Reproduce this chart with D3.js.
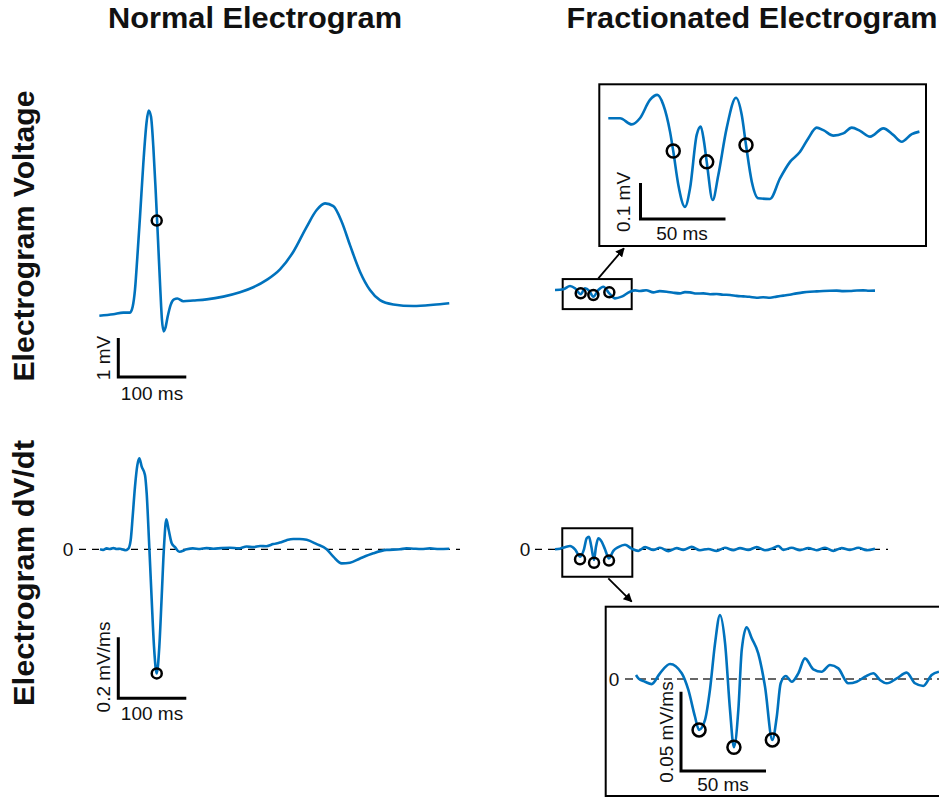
<!DOCTYPE html>
<html>
<head>
<meta charset="utf-8">
<script src="https://cdn.jsdelivr.net/npm/d3@7"></script>
<style>
  body { margin: 0; background: #fff; }
  svg { display: block; }
  text { font-family: "Liberation Sans", Arial, Helvetica, sans-serif; fill: #111; }
</style>
</head>
<body>
<svg id="chart" width="939" height="798"></svg>
<script>
// ---- data (time in ms, voltage in mV, dV/dt in mV/ms) ----
const normTime = [0.5, 21, 35.8, 45.6, 49.5, 52.9, 56.4, 60.3, 65.2, 70.1, 73, 76.5, 79.9, 83.3, 86.8, 90.2, 92.6, 95.1, 97.5, 101, 105.4, 110.3, 115.2, 124, 138.7, 158.4, 182.8, 207.4, 226.9, 246.6, 266.2, 285.8, 305.4, 320.1, 332.4, 344.6, 356.9, 369.1, 383.8, 398.5, 413.2, 432.8, 462.2, 491.6, 515.1];
const normVoltage = [-0.07, -0.03, 0.01, 0.01, 0.16, 0.59, 1.44, 2.47, 3.84, 4.91, 5.19, 5.03, 4.26, 3.15, 1.87, 0.59, -0.18, -0.47, -0.39, -0.09, 0.21, 0.35, 0.37, 0.30, 0.32, 0.35, 0.42, 0.53, 0.66, 0.85, 1.12, 1.57, 2.21, 2.64, 2.81, 2.74, 2.34, 1.74, 1.06, 0.59, 0.33, 0.22, 0.18, 0.21, 0.25];

const normDvdtTime = [1.5, 6, 11.3, 16, 21.1, 26, 30.9, 35, 38.2, 43.1, 46.6, 49.5, 52.9, 56.4, 59.3, 62.8, 67.6, 70.1, 73.5, 77.5, 80.9, 84.9, 88.7, 92.2, 95.6, 99, 102.5, 106.9, 111.8, 118.1, 129, 138, 148.5, 158, 168.1, 180, 192.6, 205, 217.2, 227, 236.8, 246, 256.3, 266, 276, 285.8, 295, 305.4, 320.1, 334.8, 344.6, 356.9, 369.1, 383.8, 403.4, 423, 442.6, 452, 462.2, 474, 486.8, 500, 515.1];
const normDvdt = [0, -0.002, 0.003, 0.001, 0.004, 0.001, 0.002, -0.001, -0.003, 0.002, 0.03, 0.107, 0.205, 0.276, 0.298, 0.271, 0.244, 0.184, 0.03, -0.166, -0.319, -0.407, -0.319, -0.155, 0.009, 0.098, 0.063, 0.02, 0.007, -0.008, 0, 0.003, 0.001, 0.004, 0.002, 0.004, 0.005, 0.003, 0.009, 0.007, 0.011, 0.01, 0.017, 0.022, 0.03, 0.034, 0.034, 0.031, 0.017, 0, -0.024, -0.046, -0.044, -0.03, -0.013, -0.002, 0, 0.003, 0.002, 0.001, 0.003, 0.001, 0.002];

const fracTime = [0, 12.3, 22.1, 29.4, 37.8, 44.1, 50.5, 56.4, 63.7, 71, 79.9, 88.2, 98, 110.3, 118, 125, 134, 144.6, 154, 164.2, 174, 183.8, 191, 198.5, 208, 218.1, 228, 237.7, 247, 257.4, 267, 277, 286, 296.6, 306, 316.2, 326, 335.8, 345, 355.4, 365, 375, 385, 394.6, 404, 414.2, 424, 433.8, 444, 453.4, 462, 470.6];
const fracVoltage = [0, 0.018, 0.103, 0.043, -0.11, 0.043, -0.026, -0.171, 0, 0.085, -0.085, -0.214, -0.171, -0.043, -0.01, -0.026, -0.005, -0.06, -0.03, -0.043, -0.07, -0.086, -0.055, -0.06, -0.09, -0.086, -0.11, -0.103, -0.12, -0.128, -0.15, -0.163, -0.175, -0.197, -0.185, -0.197, -0.17, -0.145, -0.12, -0.086, -0.06, -0.043, -0.035, -0.026, -0.02, -0.017, -0.03, -0.026, -0.012, -0.009, -0.02, -0.017];

const fracDvdtTime = [0, 7.4, 14.7, 22.1, 29.4, 36.8, 42.6, 46.6, 50, 53.4, 57.4, 60.3, 63.7, 68.6, 73.5, 79.4, 85.8, 93.1, 102.9, 112.8, 122.5, 132.4, 144.6, 154.4, 166.6, 179, 188.7, 201, 213.2, 225.4, 237.8, 250, 262.2, 272.1, 284.3, 296.6, 308.8, 321, 328.4, 335.7, 348, 360.3, 372.5, 384.8, 397.1, 409.3, 421.6, 433.8, 446, 458.4, 470.6];
const fracDvdt = [0, 0.002, 0.007, 0.011, 0, -0.024, 0, 0.036, 0.041, 0.009, -0.035, 0.009, 0.036, 0.025, 0, -0.03, -0.005, 0.007, 0.015, 0.002, -0.005, 0.007, -0.002, 0.005, -0.006, 0.004, -0.002, 0.008, -0.003, 0.001, -0.005, 0.005, -0.003, 0.004, -0.002, 0.007, -0.003, 0.004, 0.011, -0.002, 0.005, -0.003, 0.004, -0.003, 0.005, -0.005, 0.004, -0.002, 0.005, -0.003, 0.002];

const insetVTime = [0, 6.9, 13.8, 18.6, 24.5, 28.8, 32.4, 36.3, 38.2, 41.2, 45.1, 48.1, 52, 54.4, 56.3, 57.9, 61.4, 64.7, 69.6, 75.1, 78.5, 81, 84.4, 88.2, 95.1, 101, 106.9, 112.8, 117.6, 122.6, 126.5, 132.4, 138.2, 143.2, 148.1, 154, 161.8, 167.6, 172.6, 178.5, 183];
const insetV = [0, 0, -0.017, 0, 0.051, 0.065, 0.037, -0.037, -0.091, -0.185, -0.246, -0.194, -0.046, -0.023, -0.065, -0.121, -0.227, -0.158, -0.028, 0.057, 0.009, -0.074, -0.176, -0.222, -0.224, -0.167, -0.121, -0.093, -0.056, -0.026, -0.033, -0.048, -0.042, -0.026, -0.035, -0.051, -0.028, -0.046, -0.065, -0.044, -0.037];

const insetDTime = [0, 1.4, 5.3, 9.2, 14.1, 20, 26.9, 30.8, 34.7, 37.1, 40.6, 43.5, 46.5, 49.4, 52.4, 55.3, 57.6, 60.2, 62.2, 65.1, 68.1, 71.9, 75.9, 80.2, 82.8, 85.1, 88.1, 91.6, 95.5, 99.4, 104.3, 109.2, 114.1, 119, 124.9, 129.8, 134.7, 139.6, 143.5, 147.5, 153.4, 159.2, 164.1, 169, 173.9, 178.2];
const insetD = [0.0025, 0.0004, -0.0017, -0.0032, 0.0036, 0.0095, 0.0036, -0.0069, -0.0238, -0.0321, -0.0258, -0.0069, 0.0225, 0.0403, 0.0225, -0.0195, -0.043, -0.0195, 0.0183, 0.0326, 0.0256, 0.0162, -0.0049, -0.0384, -0.0238, -0.0027, 0.0019, -0.0017, 0.0036, 0.013, 0.0061, 0.0046, 0.0088, 0.0067, -0.0027, -0.0017, 0.0014, 0.0036, -0.0006, -0.0027, 0.0004, 0.004, -0.0027, -0.0044, 0.0025, 0.0046];

// marked points (circles)
const normVMarkT = [84.9], normVMarkV = [2.37];
const normDMarkT = [84.9], normDMarkV = [-0.407];
const fracVMarkT = [37.8, 56.4, 79.9], fracVMarkV = [-0.085, -0.128, -0.06];
const fracDMarkT = [36.8, 57.4, 79.4], fracDMarkV = [-0.033, -0.044, -0.037];
const insetVMarkT = [38.2, 57.9, 81], insetVMarkV = [-0.091, -0.121, -0.074];
const insetDMarkT = [37.1, 57.6, 80.2], insetDMarkV = [-0.0321, -0.043, -0.0384];

// zoom window extents on the fractionated traces
const fracVBoxT = [11.3, 112.8], fracVBoxV = [0.28, -0.49];
const fracDBoxT = [10.7, 113.7], fracDBoxV = [0.069, -0.09];

const titles = ["Normal Electrogram", "Fractionated Electrogram"];
const rowLabels = ["Electrogram Voltage", "Electrogram dV/dt"];

// ---- scales ----
const xN = d3.scaleLinear().domain([0, 515]).range([99, 449.2]);
const yNV = d3.scaleLinear().domain([0, 1]).range([313, 274]);
const yND = d3.scaleLinear().domain([0, 0.2]).range([549.3, 488.3]);
const xF = d3.scaleLinear().domain([0, 470.6]).range([555, 875]);
const yFV = d3.scaleLinear().domain([0, 1]).range([290, 251]);
const yFD = d3.scaleLinear().domain([0, 0.2]).range([549.3, 488.3]);
const xIV = d3.scaleLinear().domain([0, 50]).range([608.3, 693.3]);
const yIV = d3.scaleLinear().domain([0, 0.1]).range([118.3, 82.3]);
const xID = d3.scaleLinear().domain([0, 50]).range([636, 721]);
const yID = d3.scaleLinear().domain([0, 0.05]).range([679, 599.7]);

const blue = "#0072BD";
const svg = d3.select("#chart");

// arrow head
svg.append("defs").append("marker")
  .attr("id", "arrow").attr("viewBox", "0 0 10 10")
  .attr("refX", 9).attr("refY", 5)
  .attr("markerWidth", 5).attr("markerHeight", 5)
  .attr("orient", "auto")
  .append("path").attr("d", "M0,0L10,5L0,10z").attr("fill", "#000");

function trace(ts, vs, x, y) {
  const line = d3.line().x(i => x(ts[i])).y(i => y(vs[i])).curve(d3.curveMonotoneX);
  svg.append("path")
    .attr("d", line(d3.range(ts.length)))
    .attr("fill", "none").attr("stroke", blue)
    .attr("stroke-width", 2.6).attr("stroke-linejoin", "round");
}

function marks(ts, vs, x, y, r) {
  svg.append("g").selectAll("circle").data(d3.range(ts.length)).join("circle")
    .attr("cx", i => x(ts[i])).attr("cy", i => y(vs[i])).attr("r", r)
    .attr("fill", "none").attr("stroke", "#000").attr("stroke-width", 2.5);
}

function zeroLine(x1, x2, y, color, w, dash) {
  svg.append("line").attr("x1", x1).attr("x2", x2).attr("y1", y).attr("y2", y)
    .attr("stroke", color).attr("stroke-width", w).attr("stroke-dasharray", dash);
}

function label(txt, x, y, size, opts = {}) {
  const t = svg.append("text").attr("font-size", size)
    .attr("text-anchor", "middle").text(txt);
  if (opts.bold) t.attr("font-weight", "bold");
  if (opts.len) t.attr("textLength", opts.len).attr("lengthAdjust", "spacingAndGlyphs");
  if (opts.rot) t.attr("transform", `translate(${x},${y}) rotate(-90)`);
  else t.attr("x", x).attr("y", y);
  return t;
}

// L-shaped scale bar: corner at (cx, cy), lengths from scales
function scaleBar(cx, cy, w, h) {
  svg.append("path")
    .attr("d", `M${cx},${cy - h}V${cy}H${cx + w}`)
    .attr("fill", "none").attr("stroke", "#000").attr("stroke-width", 3);
}

function box(x1, y1, x2, y2) {
  svg.append("rect").attr("x", x1).attr("y", y1)
    .attr("width", x2 - x1).attr("height", y2 - y1)
    .attr("fill", "#fff").attr("stroke", "#000").attr("stroke-width", 2);
}

function arrow(x1, y1, x2, y2) {
  svg.append("line").attr("x1", x1).attr("y1", y1).attr("x2", x2).attr("y2", y2)
    .attr("stroke", "#000").attr("stroke-width", 1.8).attr("marker-end", "url(#arrow)");
}

// ---- titles ----
label(titles[0], 255, 28, 30, { bold: true, len: 294 });
label(titles[1], 752, 28, 30, { bold: true, len: 371 });
label(rowLabels[0], 34, 236, 30, { bold: true, rot: true, len: 291 });
label(rowLabels[1], 34, 573, 30, { bold: true, rot: true, len: 266 });

// ---- normal voltage ----
trace(normTime, normVoltage, xN, yNV);
marks(normVMarkT, normVMarkV, xN, yNV, 5);
scaleBar(118.3, 377, xN(100) - xN(0), yNV(0) - yNV(1));
label("1 mV", 110, 358, 19, { rot: true });
label("100 ms", 152, 400, 19);

// ---- normal dV/dt ----
zeroLine(79, 460, yND(0), "#000", 1.2, "7,6");
label("0", 68, yND(0) + 7, 19);
trace(normDvdtTime, normDvdt, xN, yND);
marks(normDMarkT, normDMarkV, xN, yND, 5);
scaleBar(118.3, 698.3, xN(100) - xN(0), yND(0) - yND(0.2));
label("0.2 mV/ms", 110, 667, 19, { rot: true });
label("100 ms", 152, 720, 19);

// ---- fractionated voltage ----
box(xF(fracVBoxT[0]), yFV(fracVBoxV[0]), xF(fracVBoxT[1]), yFV(fracVBoxV[1]));
trace(fracTime, fracVoltage, xF, yFV);
marks(fracVMarkT, fracVMarkV, xF, yFV, 5);
arrow(598.3, 278.3, 624, 248.3);
box(599.3, 84.3, 926, 246);
trace(insetVTime, insetV, xIV, yIV);
marks(insetVMarkT, insetVMarkV, xIV, yIV, 6.5);
scaleBar(640.5, 219, xIV(50) - xIV(0), yIV(0) - yIV(0.1));
label("0.1 mV", 630, 202, 19, { rot: true });
label("50 ms", 682, 240, 19);

// ---- fractionated dV/dt ----
zeroLine(535, 888, yFD(0), "#000", 1.2, "7,6");
label("0", 525, yFD(0) + 7, 19);
box(xF(fracDBoxT[0]), yFD(fracDBoxV[0]), xF(fracDBoxT[1]), yFD(fracDBoxV[1]));
trace(fracDvdtTime, fracDvdt, xF, yFD);
marks(fracDMarkT, fracDMarkV, xF, yFD, 5);
arrow(608.3, 578.3, 631.7, 601.7);
box(605.7, 606.7, 945, 796);
zeroLine(625, 939, yID(0), "#666", 1.8, "8,5");
label("0", 614, yID(0) + 7, 19);
trace(insetDTime, insetD, xID, yID);
marks(insetDMarkT, insetDMarkV, xID, yID, 6.5);
scaleBar(681, 771, xID(50) - xID(0), yID(0) - yID(0.05));
label("0.05 mV/ms", 673, 732, 19, { rot: true });
label("50 ms", 723, 791, 19);
</script>
</body>
</html>
